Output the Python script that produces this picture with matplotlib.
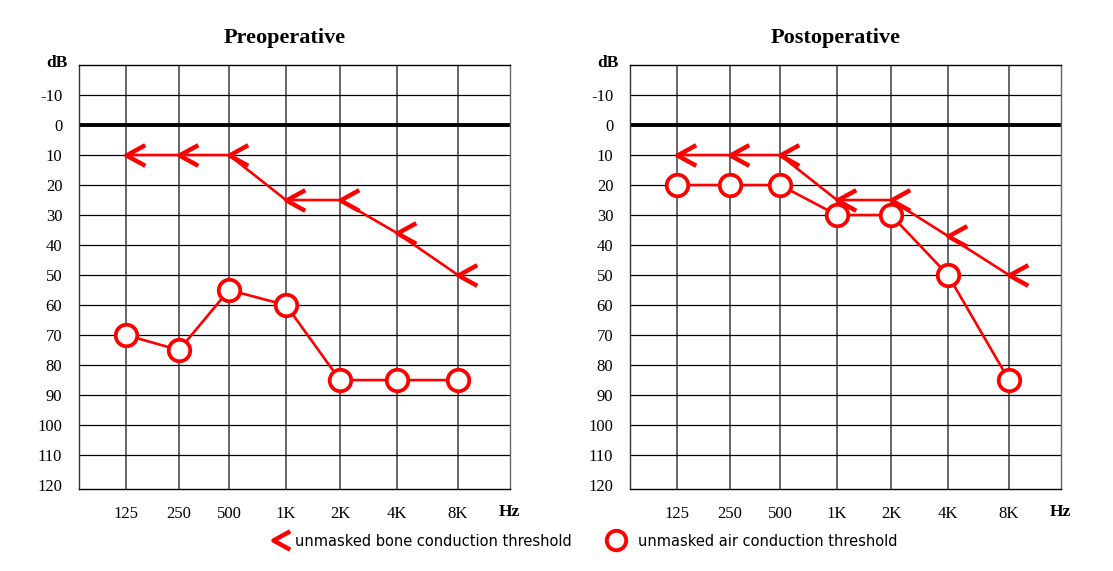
import matplotlib
matplotlib.use('Agg')
import matplotlib.pyplot as plt
from matplotlib.path import Path
from matplotlib.lines import Line2D

plt.rcParams['font.family'] = 'Liberation Serif'

freq_labels = ['125', '250', '500', '1K', '2K', '4K', '8K']
db_ticks = [-10, 0, 10, 20, 30, 40, 50, 60, 70, 80, 90, 100, 110, 120]

pre_bone = [10, 10, 10, 25, 25, 36, 50]
pre_air = [70, 75, 55, 60, 85, 85, 85]
post_bone = [10, 10, 10, 25, 25, 37, 50]
post_air = [20, 20, 20, 30, 30, 50, 85]

# audiogram columns are not evenly spaced on the original form
FREQ_POS = [47, 100, 150, 207, 261, 318, 379]
X_MAX = 431

# open "<" chevron, tip sits on the data point
chevron = Path([(2, 1.1), (0, 0), (2, -1.1)], [Path.MOVETO, Path.LINETO, Path.LINETO])


def draw(ax, bone, air, title):
    for x in FREQ_POS:
        ax.axvline(x, color='#666666', lw=1.4, zorder=1)
    for y in range(-10, 120, 10):
        ax.axhline(y, color='black', lw=2.8 if y == 0 else 0.9, zorder=1)

    ax.plot(FREQ_POS, bone, color='red', lw=1.9, marker=chevron, ms=27,
            mew=3.2, fillstyle='none', zorder=3)
    ax.plot(FREQ_POS, air, color='red', lw=1.9, marker='o', ms=15.5,
            mew=2.7, mfc='white', mec='red', zorder=4)

    ax.set_xlim(0, X_MAX)
    ax.set_ylim(121.3, -20)
    ax.set_xticks(FREQ_POS, freq_labels)
    ax.set_yticks(db_ticks, [str(v) for v in db_ticks])
    ax.tick_params(axis='both', length=0, labelsize=12)
    ax.tick_params(axis='y', pad=12)
    ax.tick_params(axis='x', pad=12)
    for s in ax.spines.values():
        s.set_linewidth(1.0)
    ax.spines['left'].set_color('#333333')
    ax.spines['right'].set_color('#666666')

    ax.text(-0.051, 1.005, 'dB', transform=ax.transAxes, ha='center',
            va='center', fontsize=12.5, fontweight='bold')
    ax.text(0.998, -0.054, 'Hz', transform=ax.transAxes, ha='center',
            va='center', fontsize=12.5, fontweight='bold')
    ax.text(0.478, 1.064, title, transform=ax.transAxes, ha='center',
            va='center', fontsize=16, fontweight='bold')


fig = plt.figure(figsize=(11.13, 5.71), dpi=100)
ax1 = fig.add_axes([79 / 1113, 82 / 571, 431 / 1113, 424 / 571])
ax2 = fig.add_axes([630 / 1113, 82 / 571, 431 / 1113, 424 / 571])

draw(ax1, pre_bone, pre_air, 'Preoperative')
draw(ax2, post_bone, post_air, 'Postoperative')

handles = [
    Line2D([], [], color='red', ls='none', marker=chevron, ms=24, mew=3.2, fillstyle='none'),
    Line2D([], [], color='red', ls='none', marker='o', ms=14, mew=2.8, mfc='white'),
]
fig.legend(handles, ['unmasked bone conduction threshold', 'unmasked air conduction threshold'],
           loc='center', bbox_to_anchor=(0.522, 1 - 541 / 571), ncol=2, frameon=False,
           prop={'family': 'DejaVu Sans', 'size': 10.5}, handlelength=1.2,
           handletextpad=0.9, columnspacing=2.4)

fig.savefig('out.png', dpi=100)
